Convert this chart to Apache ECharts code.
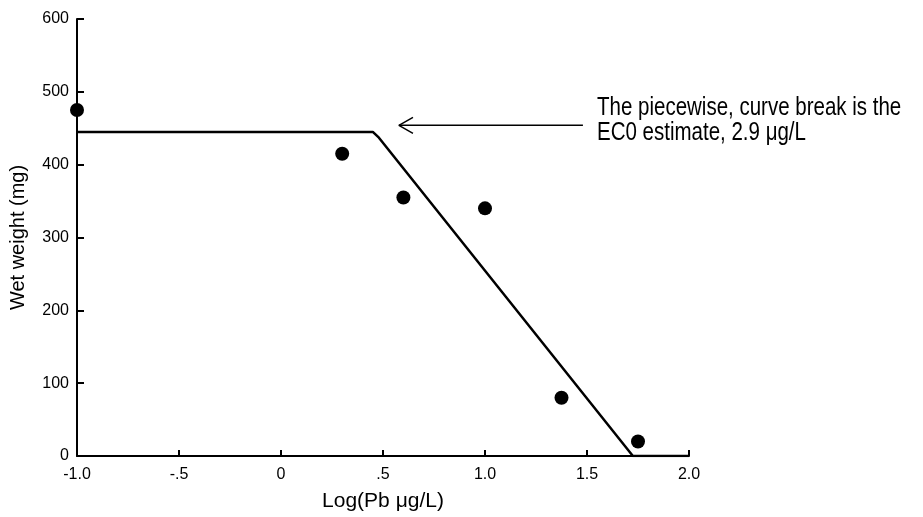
<!DOCTYPE html>
<html>
<head>
<meta charset="utf-8">
<script src="https://cdn.jsdelivr.net/npm/echarts@6/dist/echarts.min.js"></script>
<style>
  html, body { margin: 0; padding: 0; background: #fff; }
  #chart { width: 923px; height: 517px; }
</style>
</head>
<body>
<div id="chart"></div>
<script>
// observed points
const logPb = [-1.0, 0.3, 0.6, 1.0, 1.375, 1.75];
const wetWeight = [475, 415, 355, 340, 80, 20];
// piecewise fit (break at ~0.46)
const fitX = [-1.0, 0.45, 0.48, 1.725, 2.0];
const fitY = [445, 445, 437, 0, 0];
// arrow pointing at the break
const arrowX = [1.48, 0.578];
const arrowY = [454, 454];
const arrowHeadX = [0.647, 0.578, 0.647];
const arrowHeadY = [465, 454, 443];
const xTickLabels = ['-1.0', '-.5', '0', '.5', '1.0', '1.5', '2.0'];

const font = '"Liberation Sans", Arial, sans-serif';
const pair = (xs, ys) => xs.map((x, i) => [x, ys[i]]);

const chart = echarts.init(document.getElementById('chart'));
const option = {
  animation: false,
  textStyle: { fontFamily: font, color: '#000' },
  grid: { left: 77, right: 234, top: 19, bottom: 61, outerBoundsMode: 'none' },
  xAxis: {
    type: 'value',
    min: -1, max: 2, interval: 0.5,
    name: 'Log(Pb μg/L)',
    nameLocation: 'middle',
    nameGap: 35,
    nameTextStyle: { fontSize: 21, fontFamily: font, color: '#000' },
    axisLine: { onZero: false, lineStyle: { color: '#000', width: 2 } },
    axisTick: { inside: true, length: 6, lineStyle: { color: '#000', width: 2 } },
    axisLabel: {
      fontSize: 16, color: '#000', margin: 11, fontFamily: font,
      formatter: v => xTickLabels[Math.round((v + 1) / 0.5)]
    },
    splitLine: { show: false }
  },
  yAxis: {
    type: 'value',
    min: 0, max: 600, interval: 100,
    name: 'Wet weight (mg)',
    nameLocation: 'middle',
    nameGap: 49,
    nameTextStyle: { fontSize: 20, fontFamily: font, color: '#000' },
    axisLine: { show: true, onZero: false, lineStyle: { color: '#000', width: 2 } },
    axisTick: { show: true, inside: true, length: 7, lineStyle: { color: '#000', width: 2 } },
    axisLabel: { fontSize: 16, color: '#000', margin: 8, fontFamily: font },
    splitLine: { show: false }
  },
  series: [
    {
      type: 'line',
      data: pair(fitX, fitY),
      symbol: 'none',
      lineStyle: { color: '#000', width: 2.5 },
      z: 3
    },
    {
      type: 'scatter',
      data: pair(logPb, wetWeight),
      symbolSize: 14,
      itemStyle: { color: '#000', opacity: 1 },
      z: 4
    },
    {
      type: 'line',
      data: pair(arrowX, arrowY),
      symbol: 'none',
      lineStyle: { color: '#000', width: 1.5 }
    },
    {
      type: 'line',
      data: pair(arrowHeadX, arrowHeadY),
      symbol: 'none',
      lineStyle: { color: '#000', width: 1.5 }
    }
  ],
  graphic: [
    {
      type: 'text',
      x: 597,
      y: 96,
      scaleX: 0.82,
      style: {
        text: 'The piecewise, curve break is the\nEC0 estimate, 2.9 μg/L',
        font: '25px ' + font,
        fill: '#000',
        lineHeight: 25
      }
    }
  ]
};
chart.setOption(option);
</script>
</body>
</html>
